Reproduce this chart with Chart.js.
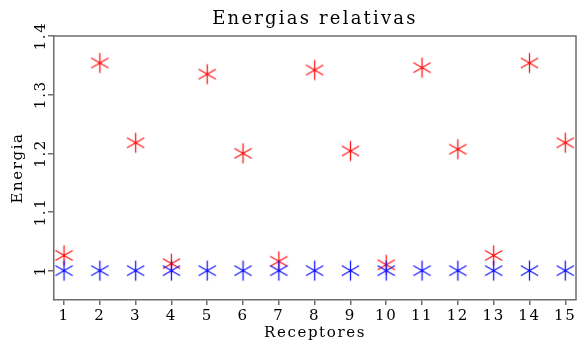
<!DOCTYPE html>
<html>
<head>
<meta charset="utf-8">
<script src="https://cdn.jsdelivr.net/npm/chart.js@4/dist/chart.umd.min.js"></script>
<style>
html,body{margin:0;padding:0;background:#fff;}
#wrap{width:587px;height:345px;}
</style>
</head>
<body>
<div id="wrap"><canvas id="c" width="587" height="345"></canvas></div>
<script>
const receptores = [1,2,3,4,5,6,7,8,9,10,11,12,13,14,15];
const energiaRoja = [1.026,1.354,1.218,1.012,1.335,1.200,1.016,1.342,1.204,1.010,1.346,1.207,1.026,1.354,1.218];
const energiaAzul = [1.0,1.0,1.0,1.0,1.0,1.0,1.0,1.0,1.0,1.0,1.0,1.0,1.0,1.0,1.0];
const xTicks = [1,2,3,4,5,6,7,8,9,10,11,12,13,14,15];
const yTicks = [1,1.1,1.2,1.3,1.4];
const titulo = 'Energias relativas';

const FONT = "'DejaVu Serif', serif";
const AXIS = '#6e6e6e';
const SPACING = '1.6px';

function asterisk(color){
  const s = 23, c = s/2, r = 10;
  const cv = document.createElement('canvas');
  cv.width = s; cv.height = s;
  const g = cv.getContext('2d');
  g.strokeStyle = color; g.lineWidth = 1.3;
  g.beginPath();
  for (const a of [90, 30, 150]) {
    const dx = Math.cos(a*Math.PI/180)*r, dy = Math.sin(a*Math.PI/180)*r;
    g.moveTo(c-dx, c-dy); g.lineTo(c+dx, c+dy);
  }
  g.stroke();
  g.fillStyle = color;
  g.beginPath(); g.arc(c, c, 1.4, 0, Math.PI*2); g.fill();
  return cv;
}

const boxPlugin = {
  id: 'box',
  beforeLayout(chart){ chart.ctx.letterSpacing = SPACING; },
  beforeDraw(chart){ chart.ctx.letterSpacing = SPACING; },
  afterDraw(chart){
    const {ctx, chartArea:a, scales} = chart;
    ctx.save();
    ctx.strokeStyle = AXIS; ctx.lineWidth = 1.5;
    ctx.beginPath();
    ctx.moveTo(a.left, a.top); ctx.lineTo(a.right, a.top); ctx.lineTo(a.right, a.bottom);
    ctx.stroke();
    ctx.fillStyle = '#000';
    ctx.font = "15px " + FONT;
    ctx.letterSpacing = SPACING;
    ctx.textAlign = 'center'; ctx.textBaseline = 'middle';
    for (const v of yTicks) {
      const y = scales.y.getPixelForValue(v);
      ctx.save();
      ctx.translate(41, y);
      ctx.rotate(-Math.PI/2);
      ctx.fillText(String(v), 0, 0);
      ctx.restore();
    }
    ctx.font = "18px " + FONT;
    ctx.letterSpacing = '2.2px';
    ctx.textBaseline = 'alphabetic';
    ctx.fillText(titulo, (a.left + a.right)/2, 24);
    ctx.restore();
  }
};

const toPts = arr => receptores.map((x,i)=>({x, y: arr[i]}));

new Chart(document.getElementById('c'), {
  type: 'scatter',
  data: {
    datasets: [
      { label: 'azul', data: toPts(energiaAzul), pointStyle: asterisk('rgb(25,25,255)'), pointRadius: 10, borderColor:'rgb(25,25,255)', backgroundColor:'rgb(25,25,255)' },
      { label: 'roja', data: toPts(energiaRoja), pointStyle: asterisk('rgb(255,25,25)'), pointRadius: 10, borderColor:'rgb(255,25,25)', backgroundColor:'rgb(255,25,25)' }
    ]
  },
  options: {
    responsive: false,
    animation: false,
    events: [],
    layout: { padding: { top: 36, right: 4, left: 0, bottom: 0 } },
    plugins: {
      legend: { display: false },
      tooltip: { enabled: false },
      title: { display: false }
    },
    scales: {
      x: {
        type: 'linear', min: 0.72, max: 15.3,
        afterBuildTicks: s => { s.ticks = xTicks.map(v => ({value: v})); },
        afterFit: s => { s.height = 45; },
        ticks: { color: '#000', font: { family: FONT, size: 15 }, padding: 2, maxRotation: 0, autoSkip: false },
        grid: { drawOnChartArea: false, drawTicks: true, tickLength: 5, color: AXIS, lineWidth: 1.5 },
        border: { color: AXIS, width: 1.5 },
        title: { display: true, text: 'Receptores', color: '#000', font: { family: FONT, size: 15, lineHeight: 1.2 }, padding: { top: 0, bottom: 3 } }
      },
      y: {
        type: 'linear', min: 0.95, max: 1.4,
        afterBuildTicks: s => { s.ticks = yTicks.map(v => ({value: v})); },
        afterFit: s => { s.width = 54; },
        ticks: { display: false },
        grid: { drawOnChartArea: false, drawTicks: true, tickLength: 6, color: AXIS, lineWidth: 1.5 },
        border: { color: AXIS, width: 1.5 },
        title: { display: true, text: 'Energia', color: '#000', font: { family: FONT, size: 15, lineHeight: 1.2 }, padding: { top: 9, bottom: 0 } }
      }
    }
  },
  plugins: [boxPlugin]
});
</script>
</body>
</html>
